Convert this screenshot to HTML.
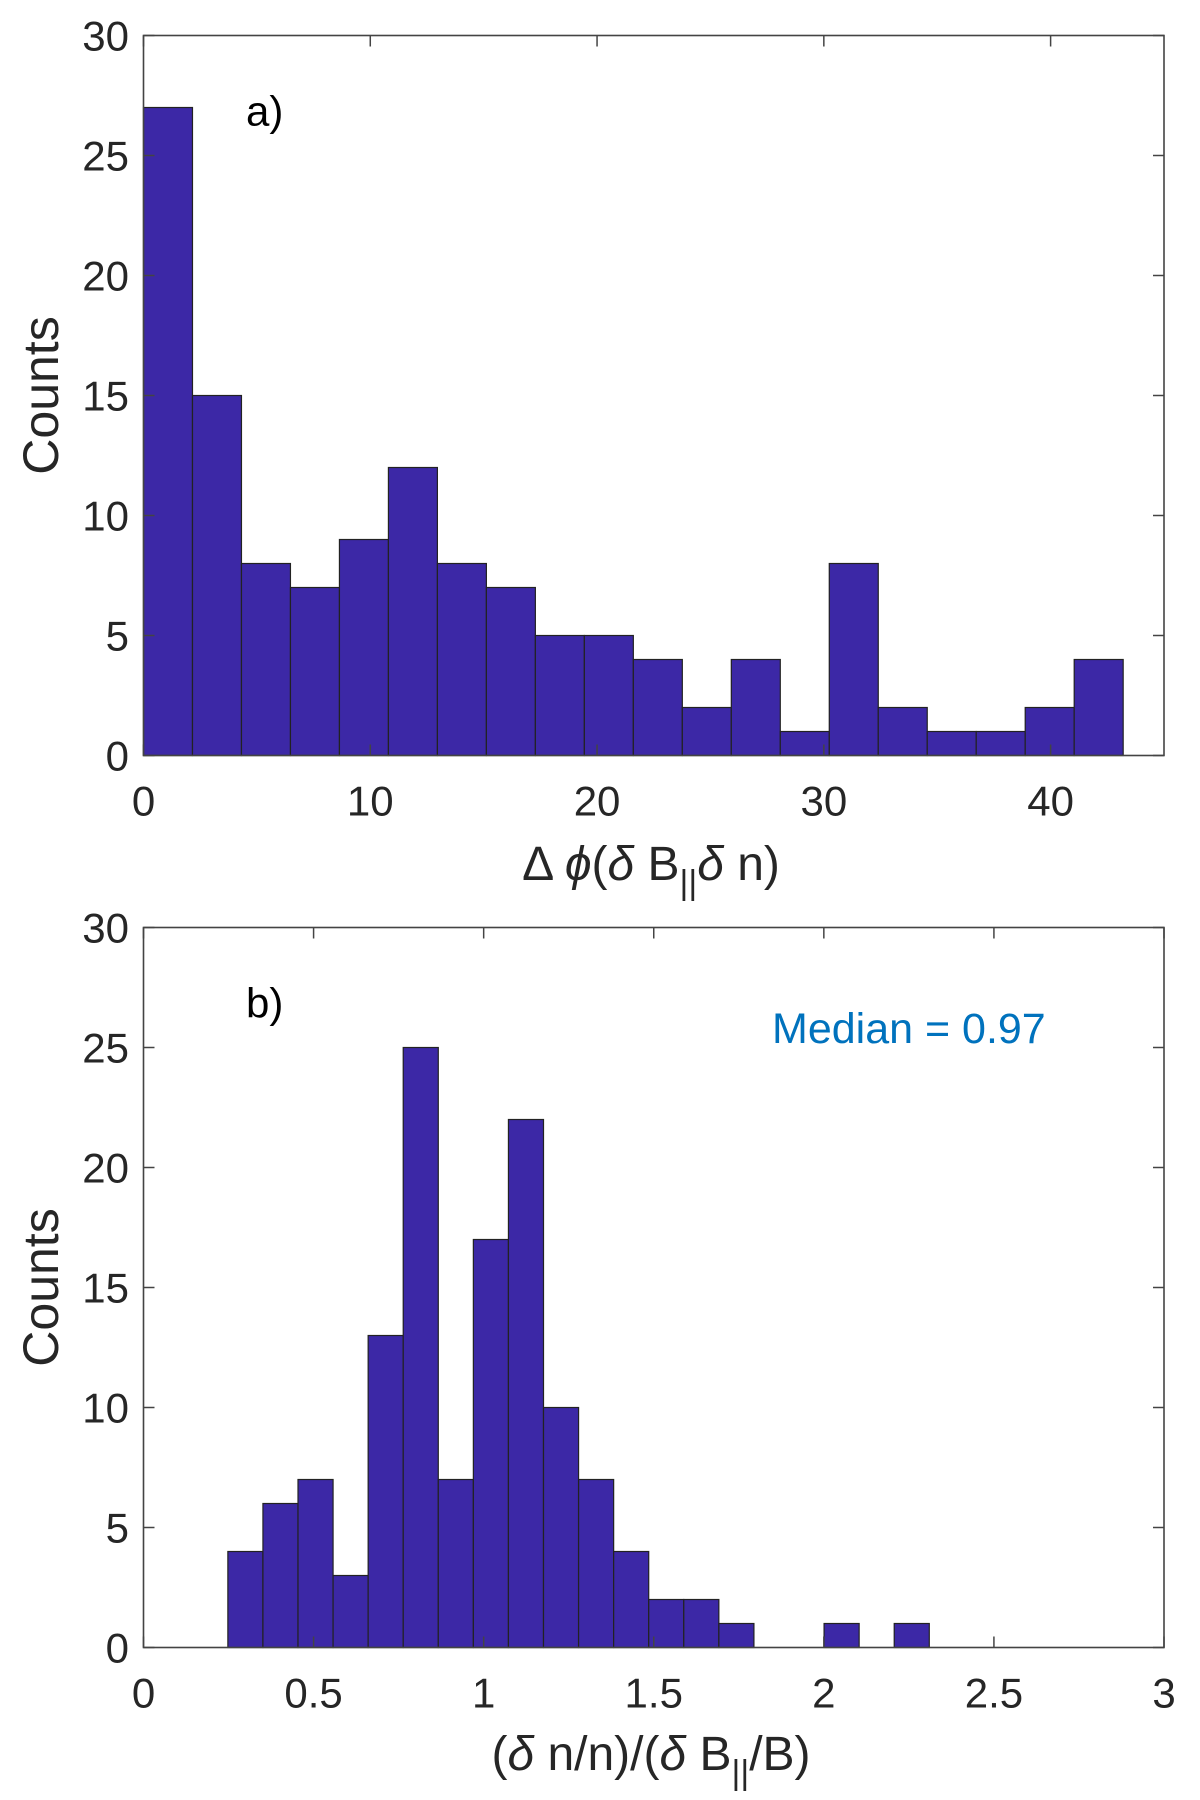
<!DOCTYPE html>
<html><head><meta charset="utf-8"><style>
body{margin:0;background:#fff;}
svg{display:block;font-family:"Liberation Sans",Arial,sans-serif;}
</style></head><body>
<svg id="fig" width="1200" height="1800" viewBox="0 0 1200 1800"></svg>
<script>
const countsA = [27,15,8,7,9,12,8,7,5,5,4,2,4,1,8,2,1,1,2,4];
const binStartA = 0, binWidthA = 2.16;
const xTicksA = [0,10,20,30,40];
const countsB = [4,6,7,3,13,25,7,17,22,10,7,4,2,2,1,0,0,1,0,1];
const binStartB = 0.248, binWidthB = 0.1031;
const xTicksB = ["0","0.5","1","1.5","2","2.5","3"];
const yTicks = [0,5,10,15,20,25,30];

const NS="http://www.w3.org/2000/svg";
const svg=document.getElementById('fig');
function mk(tag,attrs,parent){const e=document.createElementNS(NS,tag);for(const k in attrs)e.setAttribute(k,attrs[k]);(parent||svg).appendChild(e);return e;}

function panel(p){
  const g=mk('g',{});
  
  
  const L=143.5,R=1164,T=p.top,B=p.top+720;
  const sx=v=>L+(v-p.xmin)/(p.xmax-p.xmin)*(R-L);
  const sy=v=>B-v/30*(B-T);
  mk('rect',{x:L,y:T,width:R-L,height:B-T,fill:'#fff'},g);
  p.counts.forEach((c,i)=>{
    if(c<=0)return;
    const x0=sx(p.start+i*p.width),x1=sx(p.start+(i+1)*p.width);
    const r=mk('rect',{x:x0,y:sy(c),width:x1-x0,height:sy(0)-sy(c),fill:'#3C28A6',stroke:'#222','stroke-width':1.2},g);
    
    
  });
  const ax=mk('g',{},g);
  
  
  mk('rect',{x:L,y:T,width:R-L,height:B-T,fill:'none',stroke:'#444','stroke-width':1.6},ax);
  yTicks.forEach(v=>{
    const y=sy(v);
    mk('line',{x1:L,x2:L+11,y1:y,y2:y,stroke:'#444','stroke-width':1.5},ax);
    mk('line',{x1:R,x2:R-11,y1:y,y2:y,stroke:'#444','stroke-width':1.5},ax);
    const t=mk('text',{x:129,y:y+15,'text-anchor':'end','font-size':42,fill:'#262626'},ax);
    t.textContent=v;
    
    
  });
  p.xticks.forEach(s=>{
    const x=sx(parseFloat(s));
    mk('line',{x1:x,x2:x,y1:B,y2:B-11,stroke:'#444','stroke-width':1.5},ax);
    mk('line',{x1:x,x2:x,y1:T,y2:T+11,stroke:'#444','stroke-width':1.5},ax);
    const t=mk('text',{x:x,y:B+60,'text-anchor':'middle','font-size':42,fill:'#262626'},ax);
    t.textContent=s;
    
    
  });
  const yl=mk('text',{x:0,y:0,transform:`translate(58,${(T+B)/2}) rotate(-90)`,'text-anchor':'middle','font-size':50,fill:'#262626'},g);
  yl.textContent='Counts';
  
  
  const pl=mk('text',{x:246,y:T+90,'font-size':42,fill:'#000'},g);
  pl.textContent=p.label;
  
  
  return {g,B};
}
const a=panel({id:'a',name:'histogram-a',top:35.5,xmin:0,xmax:45,counts:countsA,start:binStartA,width:binWidthA,xticks:xTicksA.map(String),label:'a)'});
const b=panel({id:'b',name:'histogram-b',top:927.5,xmin:0,xmax:3,counts:countsB,start:binStartB,width:binWidthB,xticks:xTicksB,label:'b)'});

const xa=mk('text',{x:651,y:880,'text-anchor':'middle','font-size':48,fill:'#262626'},a.g);
xa.innerHTML='Δ <tspan font-style="italic">ϕ</tspan>(<tspan font-style="italic">δ</tspan> B<tspan font-size="34" dy="14">||</tspan><tspan dy="-14" font-style="italic">δ</tspan> n)';


const xb=mk('text',{x:651,y:1770,'text-anchor':'middle','font-size':48,fill:'#262626'},b.g);
xb.innerHTML='(<tspan font-style="italic">δ</tspan> n/n)/(<tspan font-style="italic">δ</tspan> B<tspan font-size="34" dy="14">||</tspan><tspan dy="-14">/B)</tspan>';


const md=mk('text',{x:772,y:1043,'font-size':43,fill:'#0072BD'},b.g);
md.textContent='Median = 0.97';


</script>
</body></html>
